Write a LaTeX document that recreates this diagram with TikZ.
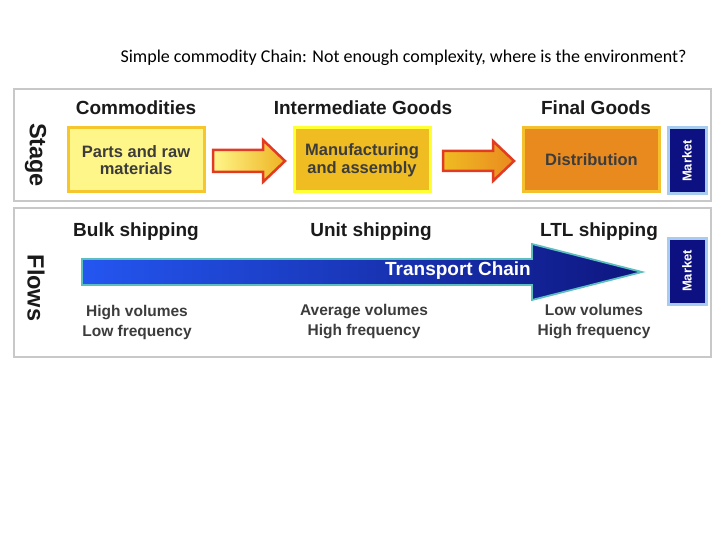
\documentclass[tikz,border=0pt]{standalone}
\usepackage{fontspec}
\setmainfont{Liberation Sans}
\newfontfamily\titlefont{Carlito}
\definecolor{panelgray}{HTML}{C8C8C8}
\definecolor{boxAfill}{HTML}{FFF68A}
\definecolor{boxAedge}{HTML}{F6C62E}
\definecolor{boxBfill}{HTML}{EFBC22}
\definecolor{boxBedge}{HTML}{FFFF33}
\definecolor{boxCfill}{HTML}{E98A1F}
\definecolor{boxCedge}{HTML}{F5C02E}
\definecolor{mktfill}{HTML}{0D1080}
\definecolor{mktedge}{HTML}{A8CCF0}
\definecolor{arrowred}{HTML}{E23B24}
\definecolor{tblue}{HTML}{2456F0}
\definecolor{tmid}{HTML}{1E40D0}
\definecolor{tnavy}{HTML}{0E167F}
\definecolor{tedge}{HTML}{5BBFC0}
\definecolor{txt}{HTML}{1A1A1A}
\begin{document}
\begin{tikzpicture}[x=1pt,y=-1pt,
  panel/.style={draw=panelgray,line width=2pt},
  head/.style={font=\fontsize{19}{21}\selectfont\bfseries,text=txt},
  side/.style={font=\fontsize{23.5}{25}\selectfont\bfseries,text=txt,rotate=-90},
  boxtext/.style={font=\fontsize{16.5}{17.5}\selectfont\bfseries,text=txt!85!white,align=center},
  stagebox/.style={line width=3pt,minimum width=136pt,minimum height=64pt,inner sep=0pt},
  mkt/.style={draw=mktedge,fill=mktfill,line width=3pt,minimum width=38pt,minimum height=66pt,inner sep=0pt},
  mkttext/.style={font=\fontsize{13}{14}\selectfont\bfseries,text=white,rotate=90},
  flowtext/.style={font=\fontsize{15.5}{20}\selectfont\bfseries,text=txt!85!white,align=center},
  blockarrow/.style={draw=arrowred,line width=2.5pt,line join=miter}
]
\useasboundingbox (0,0) rectangle (720,540);

% title
\node[font=\titlefont\fontsize{18}{20}\selectfont] (title) at (403.5,58) {Simple commodity Chain: Not enough complexity, where is the environment?};

% panels
\draw[panel] (14,89) rectangle (711,201);
\draw[panel] (14,208) rectangle (711,357);

\node[side] (stage) at (35.5,155) {Stage};
\node[side] (flows) at (36,288) {Flows};

% stage headings
\node[head] (hcom) at (136,108) {Commodities};
\node[head] (hint) at (363,108) {Intermediate Goods};
\node[head] (hfin) at (596,108) {Final Goods};

% stage boxes
\node[stagebox,draw=boxAedge,fill=boxAfill] (parts) at (136,160) {};
\node[boxtext] at (parts) {Parts and raw\\materials};
\node[stagebox,draw=boxBedge,fill=boxBfill] (manu) at (362,160) {};
\node[boxtext] at (manu) {Manufacturing\\and assembly};
\node[stagebox,draw=boxCedge,fill=boxCfill] (dist) at (591.5,160) {};
\node[boxtext] at (dist) {Distribution};
\node[mkt] (mkt1) at (687,161) {};
\node[mkttext] at (mkt1) {Market};

% block arrows between stages
\path[blockarrow,left color=boxAfill,right color=boxBfill!80!boxCfill]
  (213,150) -- (263,150) -- (263,140) -- (285,161) -- (263,182) -- (263,172) -- (213,172) -- cycle;
\path[blockarrow,left color=boxBfill,right color=boxCfill]
  (443,151) -- (493,151) -- (493,141) -- (514,161) -- (493,181) -- (493,171) -- (443,171) -- cycle;

% flows headings
\node[head] (hbulk) at (136,232) {Bulk shipping};
\node[head] (hunit) at (371,232) {Unit shipping};
\node[head] (hltl) at (599,232) {LTL shipping};

% transport chain arrow
\path[draw=tedge,line width=1.8pt,left color=tblue,middle color=tmid,right color=tnavy]
  (82,259) -- (532,259) -- (532,244) -- (642,272) -- (532,300) -- (532,285) -- (82,285) -- cycle;
\node[font=\fontsize{19}{21}\selectfont\bfseries,text=white] (tc) at (458,271) {Transport Chain};

\node[mkt] (mkt2) at (687,271) {};
\node[mkttext] at (mkt2) {Market};

% flow descriptions
\node[flowtext] (f1) at (137,322) {High volumes\\Low frequency};
\node[flowtext] (f2) at (364,322) {Average volumes\\High frequency};
\node[flowtext] (f3) at (594,322) {Low volumes\\High frequency};
\end{tikzpicture}
\end{document}
